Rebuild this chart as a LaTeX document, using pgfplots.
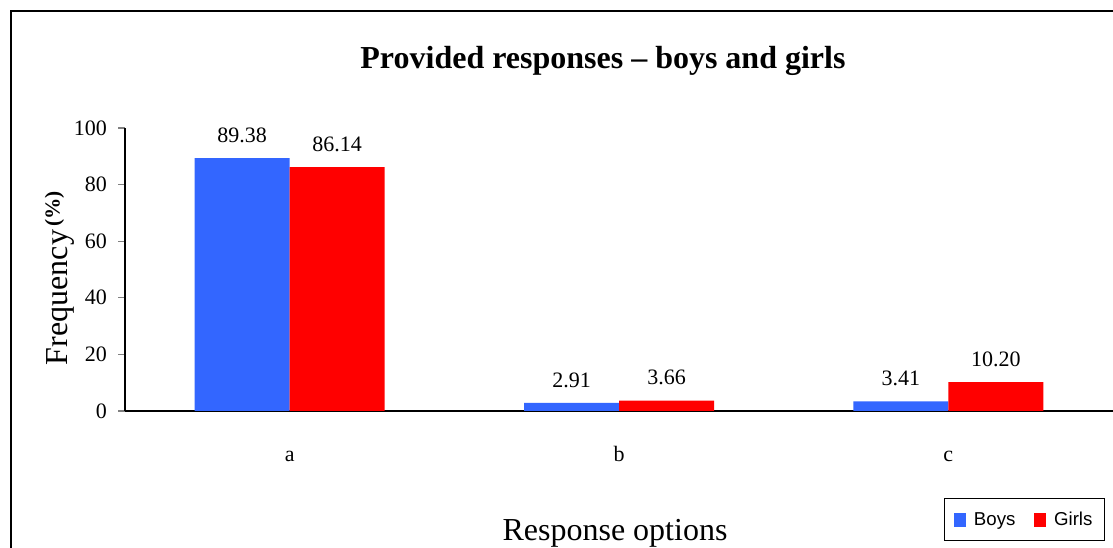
\documentclass[border=0pt]{standalone}
\usepackage{pgfplots}
\pgfplotsset{compat=1.18}
\usepackage{fontspec}
\setmainfont{Liberation Serif}
\newfontfamily\arialfont{Liberation Sans}
\definecolor{boysblue}{HTML}{3366FF}
\definecolor{girlsred}{HTML}{FF0000}
\begin{document}
\begin{tikzpicture}
\useasboundingbox (0,0) rectangle (834.75pt,411pt);
\fill[white] (0,0) rectangle (834.75pt,411pt);
\draw[line width=1.4pt] (8.25pt,-20pt) -- (8.25pt,402.75pt) -- (860pt,402.75pt);
\node[font=\bfseries\fontsize{24}{28}\selectfont] at (452.25pt,365.5pt) {Provided responses – boys and girls};
\node[font=\fontsize{24}{28}\selectfont] at (461.25pt,11pt) {Response options};
\begin{axis}[
  at={(93.75pt,102.75pt)}, anchor=south west,
  scale only axis, width=741pt, height=212.25pt,
  ybar=0pt, bar width=71.25pt,
  xmin=-0.5, xmax=2.5, ymin=0, ymax=100,
  enlargelimits=false, clip=false,
  axis x line=bottom, axis y line=left,
  axis line style={-, line width=0.8pt},
  xtick={0,1,2}, xticklabels={a,b,c},
  extra x ticks={-0.5,0.5,1.5,2.5}, extra x tick labels={},
  extra x tick style={major tick length=6pt, tick style={line width=0.8pt}, tick align=outside},
  xtick style={draw=none},
  xticklabel style={font=\fontsize{16.5}{18}\selectfont, anchor=base, yshift=-33pt},
  ytick={0,20,40,60,80,100},
  ytick style={line width=0.8pt},
  tick align=outside, major tick length=5pt,
  yticklabel style={font=\fontsize{16.5}{18}\selectfont, /pgf/number format/assume math mode=true, xshift=-5pt},
  nodes near coords,
  point meta=y,
  nodes near coords style={font=\fontsize{16.5}{18}\selectfont, /pgf/number format/.cd, fixed, precision=2, fixed zerofill, assume math mode=true, /tikz/.cd, yshift=8pt},
  legend columns=2,
  legend style={at={(1,0)}, anchor=north east, xshift=-6pt, yshift=-65.25pt,
    draw=black, line width=0.8pt, font=\arialfont\fontsize{14}{16}\selectfont,
    /tikz/every odd column/.append style={column sep=4pt},
    /tikz/every even column/.append style={column sep=12pt},
    inner xsep=7pt, inner ysep=8pt},
  legend image code/.code={\fill[#1] (0pt,-5.5pt) rectangle (9pt,5pt);},
]
\addplot[fill=boysblue, draw=none] coordinates {(0,89.38) (1,2.91) (2,3.41)};
\addplot[fill=girlsred, draw=none] coordinates {(0,86.14) (1,3.66) (2,10.20)};
\legend{Boys,Girls}
\node[rotate=90, fill=white, inner sep=2pt, font=\fontsize{24}{28}\selectfont] at ([xshift=-49pt]rel axis cs:0,0.47) {Frequency\raisebox{6pt}{\fontsize{16}{18}\selectfont\bfseries\,(\%)}};
\end{axis}
\end{tikzpicture}
\end{document}
